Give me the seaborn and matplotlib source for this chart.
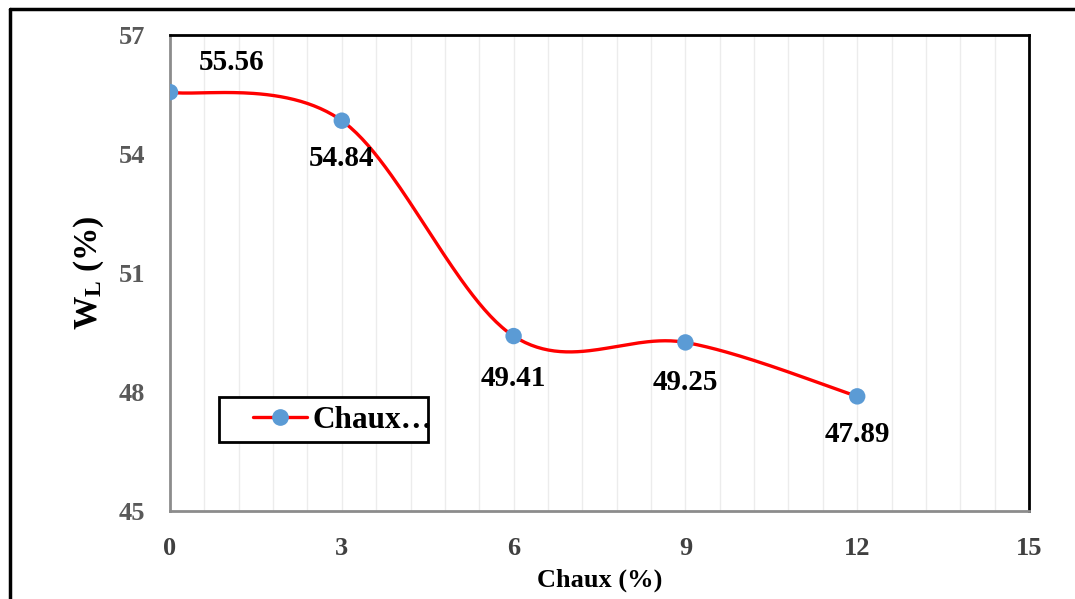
import numpy as np
import pandas as pd
import matplotlib
matplotlib.use("Agg")
import matplotlib.pyplot as plt
from matplotlib.lines import Line2D
from matplotlib.patches import Rectangle
import seaborn as sns

# Lime content (%) and liquid limit W_L (%)
chaux = [0, 3, 6, 9, 12]
wl = [55.56, 54.84, 49.41, 49.25, 47.89]
labels = ["55.56", "54.84", "49.41", "49.25", "47.89"]
xticks = [0, 3, 6, 9, 12, 15]
yticks = [45, 48, 51, 54, 57]

sns.set_theme(style="white")
plt.rcParams["font.family"] = ["Liberation Serif", "DejaVu Serif"]
plt.rcParams["mathtext.fontset"] = "custom"
plt.rcParams["mathtext.rm"] = "Liberation Serif"
plt.rcParams["mathtext.bf"] = "Liberation Serif:bold"


def smooth_curve(xs, ys, n=60):
    """Cardinal (Catmull-Rom) spline through the points, as cubic Bezier pieces."""
    P = np.column_stack([xs, ys]).astype(float)
    ext = np.vstack([P[0], P, P[-1]])
    out = []
    t = np.linspace(0, 1, n)[:, None]
    for i in range(len(P) - 1):
        p0, p3 = ext[i + 1], ext[i + 2]
        c1 = p0 + (ext[i + 2] - ext[i]) / 6.0
        c2 = p3 - (ext[i + 3] - ext[i + 1]) / 6.0
        seg = ((1 - t) ** 3) * p0 + 3 * ((1 - t) ** 2) * t * c1 + 3 * (1 - t) * t ** 2 * c2 + t ** 3 * p3
        out.append(seg if i == 0 else seg[1:])
    arr = np.vstack(out)
    return pd.DataFrame({"x": arr[:, 0], "y": arr[:, 1]})


fig = plt.figure(figsize=(10.75, 5.99), dpi=100)
ax = fig.add_axes([170 / 1075, 1 - 511 / 599, (1029 - 170) / 1075, (511 - 35) / 599])

# light vertical gridlines
for gx in np.arange(0.6, 15, 0.6):
    ax.axvline(gx, color="#ececec", lw=1.0, zorder=0)

curve = smooth_curve(chaux, wl)
sns.lineplot(data=curve, x="x", y="y", sort=False, estimator=None, ax=ax,
             color="#ff0000", lw=2.4, zorder=3)
pts = pd.DataFrame({"x": chaux, "y": wl})
sns.scatterplot(data=pts, x="x", y="y", ax=ax, color="#5b9bd5", s=140,
                edgecolor="none", zorder=4)

ax.set_xlim(0, 15)
ax.set_ylim(45, 57)
ax.set_xticks(xticks)
ax.set_yticks(yticks)
ax.tick_params(axis="both", length=0)
ax.tick_params(axis="y", pad=18)
ax.tick_params(axis="x", pad=19)
for t in ax.get_yticklabels():
    t.set_fontsize(19)
    t.set_fontweight("bold")
    t.set_color("#595959")
for t in ax.get_xticklabels():
    t.set_fontsize(19)
    t.set_fontweight("bold")
    t.set_color("#404040")

ax.set_xlabel("Chaux (%)", fontsize=19, fontweight="bold", color="black")
ax.set_ylabel(r"$\mathbf{W_L}$ (%)", fontsize=24, fontweight="bold", color="black")
ax.xaxis.set_label_coords(0.5, -0.12)
ax.yaxis.set_label_coords(-0.074, 0.5)

for side in ["left", "bottom"]:
    ax.spines[side].set_color("#8c8c8c")
    ax.spines[side].set_linewidth(2.0)
for side in ["top", "right"]:
    ax.spines[side].set_color("black")
    ax.spines[side].set_linewidth(2.0)

# value labels
offsets = [(62, 30), (0, -38), (0, -42), (0, -40), (0, -38)]
for x, y, s, (dx, dy) in zip(chaux, wl, labels, offsets):
    ax.annotate(s, (x, y), xytext=(dx * 0.72, dy * 0.72), textcoords="offset points",
                ha="center", va="center", fontsize=21, fontweight="bold", color="black")

# legend: white box with black border, entry text running to the edge
box = Rectangle((219 / 1075, 1 - 442 / 599), 209 / 1075, 45 / 599, transform=fig.transFigure,
                facecolor="white", edgecolor="black", lw=2.0, zorder=5, clip_on=False)
ax.add_patch(box)
handle = Line2D([], [], color="#ff0000", lw=2.4, marker="o", markersize=11,
                markerfacecolor="#5b9bd5", markeredgecolor="#5b9bd5")
leg = ax.legend([handle], ["Chaux…"], loc="center left",
                bbox_to_anchor=(253 / 1075, 1 - 420 / 599), bbox_transform=fig.transFigure,
                frameon=False, handlelength=1.73, handletextpad=0.19,
                borderpad=0, borderaxespad=0, labelcolor="black",
                prop={"family": "Liberation Serif", "weight": "bold", "size": 22.5})
leg.set_zorder(6)

# outer frame (left and top edges)
fig.add_artist(Line2D([10 / 1075, 10 / 1075], [0, 1 - 9 / 599], transform=fig.transFigure,
                      color="black", lw=2.5))
fig.add_artist(Line2D([10 / 1075, 1], [1 - 9 / 599, 1 - 9 / 599], transform=fig.transFigure,
                      color="black", lw=2.5))

fig.savefig("out.png", dpi=100, facecolor="white")
